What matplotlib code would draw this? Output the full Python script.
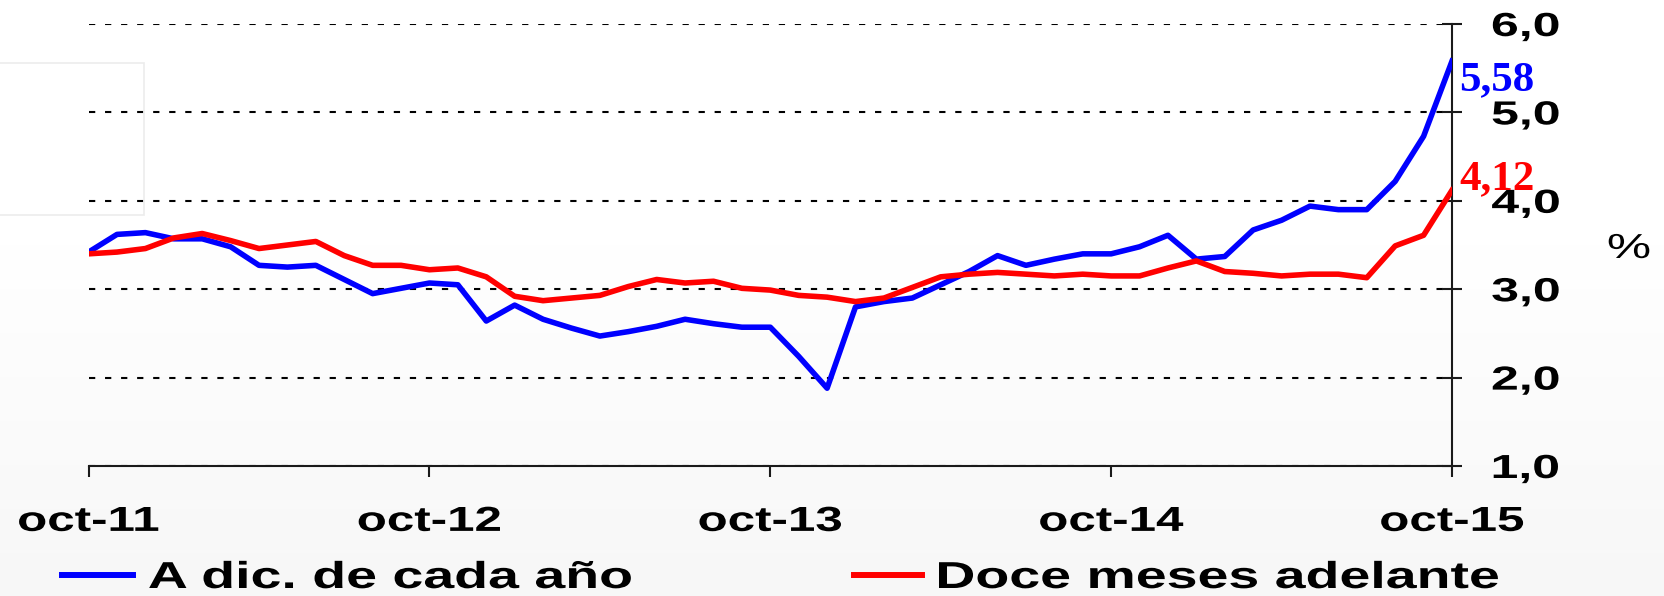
import matplotlib
matplotlib.use('Agg')
import matplotlib.pyplot as plt
import numpy as np
from matplotlib.patheffects import AbstractPathEffect
from matplotlib.transforms import Affine2D
from matplotlib.lines import Line2D
from matplotlib.patches import Rectangle

# monthly series, oct-11 .. oct-15 (49 months)
months = list(range(49))
tick_pos = [0, 12, 24, 36, 48]
tick_labels = ['oct-11', 'oct-12', 'oct-13', 'oct-14', 'oct-15']
y_ticks = [1, 2, 3, 4, 5, 6]
y_labels = ['1,0', '2,0', '3,0', '4,0', '5,0', '6,0']

dic_cada_ano = [3.42, 3.62, 3.64, 3.57, 3.57, 3.48, 3.27, 3.25, 3.27, 3.11, 2.95, 3.01,
                3.07, 3.05, 2.64, 2.82, 2.66, 2.56, 2.47, 2.52, 2.58, 2.66, 2.61, 2.57,
                2.57, 2.24, 1.88, 2.80, 2.86, 2.90, 3.05, 3.20, 3.38, 3.27, 3.34, 3.40,
                3.40, 3.48, 3.61, 3.34, 3.37, 3.67, 3.78, 3.94, 3.90, 3.90, 4.22, 4.73,
                5.58]
doce_meses = [3.40, 3.42, 3.46, 3.58, 3.63, 3.55, 3.46, 3.50, 3.54, 3.38, 3.27, 3.27,
              3.22, 3.24, 3.14, 2.92, 2.87, 2.90, 2.93, 3.03, 3.11, 3.07, 3.09, 3.01,
              2.99, 2.93, 2.91, 2.86, 2.90, 3.02, 3.14, 3.17, 3.19, 3.17, 3.15, 3.17,
              3.15, 3.15, 3.24, 3.32, 3.20, 3.18, 3.15, 3.17, 3.17, 3.13, 3.49, 3.61,
              4.12]

BLUE = '#0000ff'
RED = '#ff0000'
SANS = 'Liberation Sans'


class Widen(AbstractPathEffect):
    """Draw text glyphs stretched horizontally around an anchor."""

    def __init__(self, sx=1.45, anchor='center'):
        super().__init__()
        self.sx = sx
        self.anchor = anchor

    def draw_path(self, renderer, gc, tpath, affine, rgbFace=None):
        ext = tpath.get_extents(affine)
        if self.anchor == 'left':
            x0 = ext.x0
        elif self.anchor == 'right':
            x0 = ext.x1
        else:
            x0 = 0.5 * (ext.x0 + ext.x1)
        tr = affine + Affine2D().translate(-x0, 0).scale(self.sx, 1).translate(x0, 0)
        renderer.draw_path(gc, tpath, tr, rgbFace)


fig = plt.figure(figsize=(16.64, 5.96), dpi=100)

# soft white-to-grey backdrop
bg = fig.add_axes([0, 0, 1, 1], zorder=-10)
rows = np.arange(596)
shade = np.interp(rows, [0, 200, 595], [1.0, 1.0, 0.965])[:, None]
bg.imshow(shade, cmap='gray', vmin=0, vmax=1, aspect='auto', extent=[0, 1, 0, 1])
bg.axis('off')
fig.add_artist(Rectangle((-0.01, 1 - 215 / 596), 144 / 1664 + 0.01, 152 / 596,
                         transform=fig.transFigure, fill=False, ec='#ececec', lw=1.2))

ax = fig.add_axes([88.6 / 1664, 130 / 596, 1363.4 / 1664, 442 / 596])
ax.patch.set_alpha(0)

ax.plot(months, dic_cada_ano, color=BLUE, lw=4.0, zorder=3)
ax.plot(months, doce_meses, color=RED, lw=4.0, zorder=4)

ax.set_xlim(0, 48)
ax.set_ylim(1, 6)
ax.set_xticks(tick_pos, tick_labels)
ax.set_yticks(y_ticks, y_labels)
ax.yaxis.tick_right()
ax.yaxis.grid(True, color='black', lw=1.5, linestyle=(0, (3.0, 4.7)))
ax.set_axisbelow(True)

for side in ['left', 'top']:
    ax.spines[side].set_visible(False)
for side in ['right', 'bottom']:
    ax.spines[side].set_color('#1a1a1a')
    ax.spines[side].set_linewidth(1.5)

ax.tick_params(axis='x', direction='out', length=8, width=1.5, color='#1a1a1a', pad=20)
ax.tick_params(axis='y', direction='inout', length=15, width=1.5, color='#1a1a1a', pad=21)

for lbl in ax.get_xticklabels():
    lbl.set_fontfamily(SANS)
    lbl.set_fontweight('bold')
    lbl.set_fontsize(25)
    lbl.set_path_effects([Widen(1.42, 'center')])
for lbl in ax.get_yticklabels():
    lbl.set_fontfamily(SANS)
    lbl.set_fontweight('bold')
    lbl.set_fontsize(24)
    lbl.set_path_effects([Widen(1.5, 'left')])

# end-of-series values
ax.annotate(f"{dic_cada_ano[-1]:.2f}".replace('.', ','), xy=(48, dic_cada_ano[-1]),
            xytext=(5, 0), textcoords='offset points', ha='left', va='top',
            color=BLUE, fontsize=31, fontweight='bold', family='Liberation Serif',
            annotation_clip=False)
ax.annotate(f"{doce_meses[-1]:.2f}".replace('.', ','), xy=(48, doce_meses[-1]),
            xytext=(5, 1), textcoords='offset points', ha='left', va='baseline',
            color=RED, fontsize=31, fontweight='bold', family='Liberation Serif',
            annotation_clip=False)

fig.text(1629 / 1664, 1 - 248.5 / 596, '%', ha='center', va='center', fontsize=25,
         family=SANS, path_effects=[Widen(1.43, 'center')])

# legend entries, one per series
leg_prop = {'family': SANS, 'weight': 'bold', 'size': 27}
for color, name, x0, hl in [(BLUE, 'A dic. de cada año', 62, 1.9),
                            (RED, 'Doce meses adelante', 854, 1.8)]:
    leg = fig.legend([Line2D([], [], color=color, lw=4.3)], [name],
                     loc='center left', bbox_to_anchor=(x0 / 1664, 1 - 578 / 596),
                     frameon=False, prop=leg_prop, handlelength=hl, handletextpad=0.4,
                     borderpad=0, borderaxespad=0)
    for t in leg.get_texts():
        t.set_path_effects([Widen(1.48, 'left')])

fig.savefig('out.png', dpi=100)
